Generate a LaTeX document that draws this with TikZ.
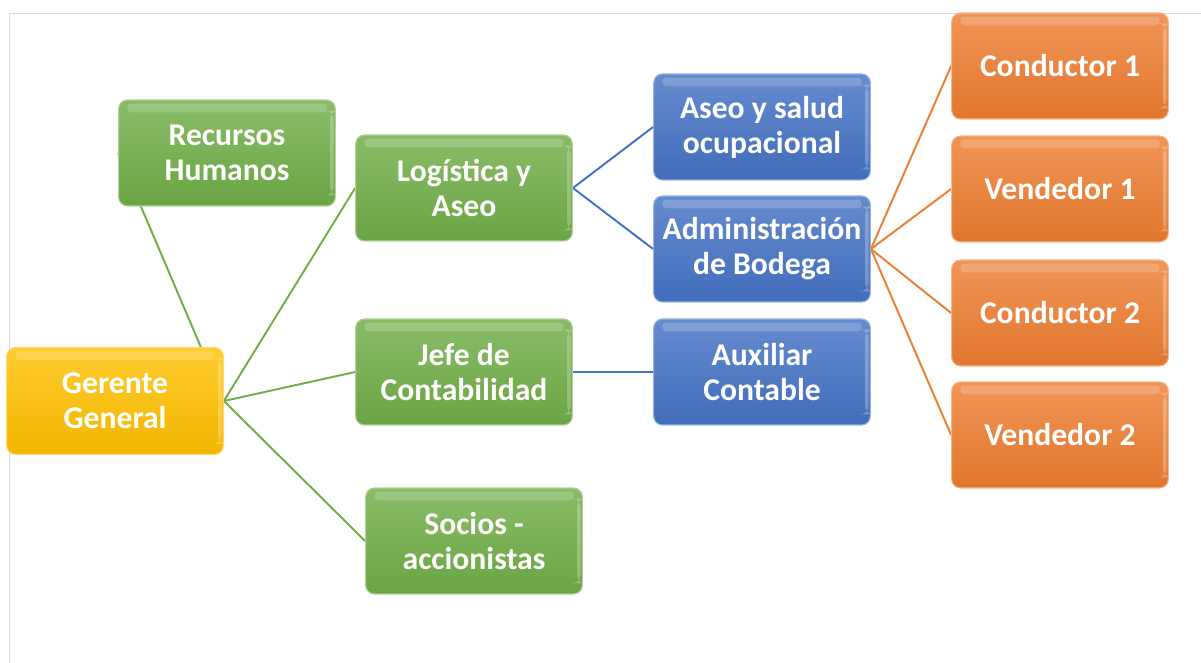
\documentclass[tikz,border=0pt]{standalone}
\usepackage{fontspec}
\setmainfont{Carlito}
\usetikzlibrary{backgrounds}
\definecolor{verde}{HTML}{70AD47}
\definecolor{azul}{HTML}{4472C4}
\definecolor{naranja}{HTML}{ED7D31}
\definecolor{oro}{HTML}{FFC000}
\tikzset{
  caja/.style={rounded corners=5pt, minimum width=4.24cm, minimum height=2.12cm,
    text width=4.1cm, align=flush center, font=\fontsize{18}{20}\selectfont\bfseries, text=white,
    top color=#1!82!white, bottom color=#1!95!black, draw=#1!55!white, line width=0.6pt,
    path picture={\fill[white,opacity=0.18,rounded corners=2pt]
      ([xshift=5pt,yshift=-2pt]path picture bounding box.north west) rectangle
      ([xshift=-5pt,yshift=-7pt]path picture bounding box.north east);
      \fill[white,opacity=0.25]
      ([xshift=-3pt,yshift=-6pt]path picture bounding box.north east) rectangle
      ([xshift=-1pt,yshift=6pt]path picture bounding box.south east);}},
  enlace/.style={draw=#1, line width=1.1pt}
}
\begin{document}
\begin{tikzpicture}
\useasboundingbox (0,0) rectangle (24.02,-13.26);
\draw[gray!30, line width=1pt] (0.19,-13.26) -- (0.19,-0.27) -- (24.02,-0.27);
\node[caja=oro, minimum width=4.2cm, minimum height=2.14cm] (gg) at (2.30,-8.02) {Gerente\\General};
\node[caja=verde] (rh) at (4.54,-3.06) {Recursos\\Humanos};
\node[caja=verde] (log) at (9.28,-3.76) {Logística y\\Aseo};
\node[caja=verde] (jefe) at (9.28,-7.44) {Jefe de\\Contabilidad};
\node[caja=verde] (socios) at (9.48,-10.82) {Socios -\\accionistas};
\node[caja=azul] (aseo) at (15.24,-2.54) {Aseo y salud\\ocupacional};
\node[caja=azul] (admin) at (15.24,-4.98) {Administración\\de Bodega};
\node[caja=azul] (aux) at (15.24,-7.44) {Auxiliar\\Contable};
\node[caja=naranja] (c1) at (21.20,-1.32) {Conductor 1};
\node[caja=naranja] (v1) at (21.20,-3.78) {Vendedor 1};
\node[caja=naranja] (c2) at (21.20,-6.26) {Conductor 2};
\node[caja=naranja] (v2) at (21.20,-8.70) {Vendedor 2};
\begin{scope}[on background layer]
\foreach \h in {rh,log,jefe,socios} \draw[enlace=verde] (gg.east) -- (\h.west);
\foreach \h in {aseo,admin} \draw[enlace=azul] (log.east) -- (\h.west);
\draw[enlace=azul] (jefe.east) -- (aux.west);
\foreach \h in {c1,v1,c2,v2} \draw[enlace=naranja] (admin.east) -- (\h.west);
\end{scope}
\end{tikzpicture}
\end{document}
